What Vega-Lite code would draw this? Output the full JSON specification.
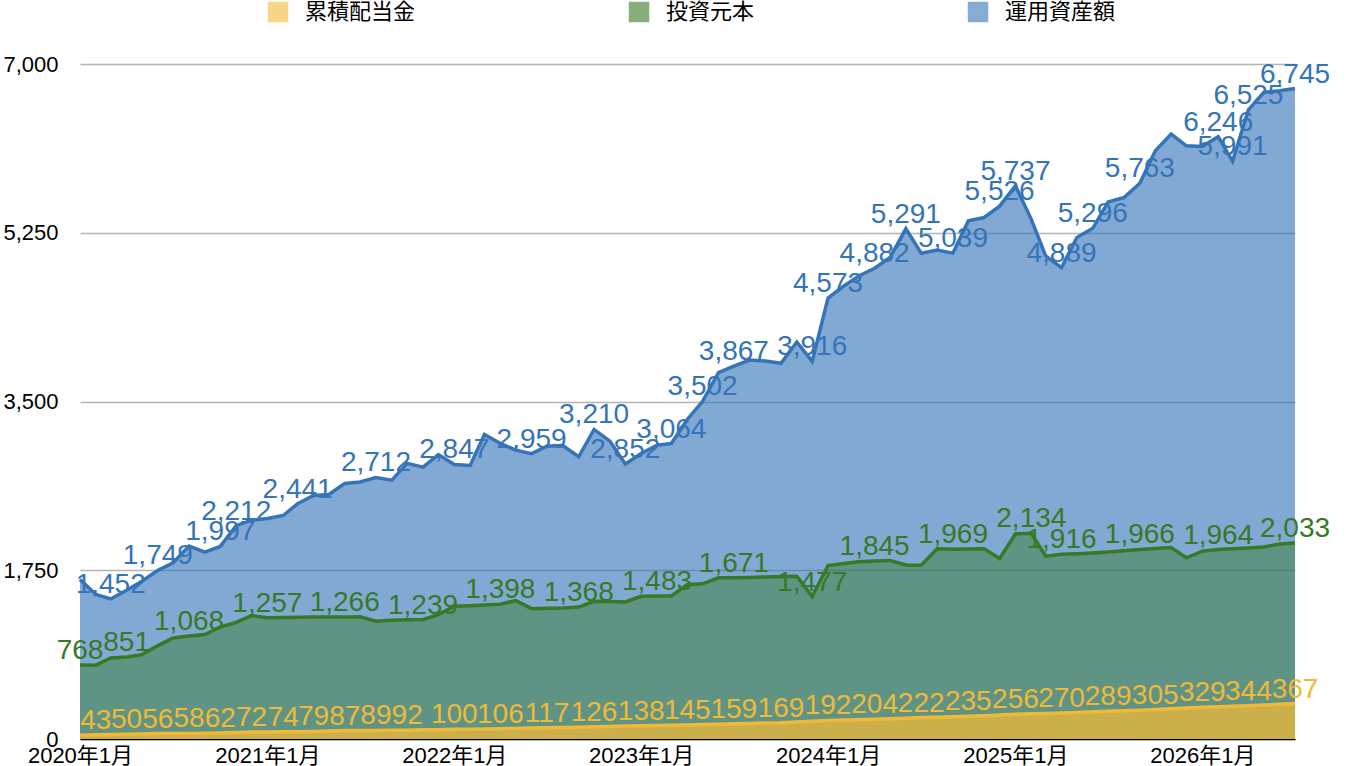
{
  "$schema": "https://vega.github.io/schema/vega-lite/v6.json",
  "width": 1215,
  "height": 675,
  "autosize": "none",
  "padding": {"left": 80, "top": 64, "right": 65, "bottom": 27},
  "background": "white",
  "config": {"view": {"stroke": null}, "font": "Liberation Sans"},
  "data": {
    "values": [
      {"date": "2020-01-01", "div": 40, "principal": 768, "assets": 1654},
      {"date": "2020-02-01", "div": 43, "principal": 766, "assets": 1498},
      {"date": "2020-03-01", "div": 46, "principal": 841, "assets": 1452},
      {"date": "2020-04-01", "div": 50, "principal": 851, "assets": 1543},
      {"date": "2020-05-01", "div": 53, "principal": 875, "assets": 1636},
      {"date": "2020-06-01", "div": 56, "principal": 968, "assets": 1749},
      {"date": "2020-07-01", "div": 57, "principal": 1048, "assets": 1827},
      {"date": "2020-08-01", "div": 58, "principal": 1068, "assets": 2000},
      {"date": "2020-09-01", "div": 60, "principal": 1083, "assets": 1937},
      {"date": "2020-10-01", "div": 62, "principal": 1162, "assets": 1997},
      {"date": "2020-11-01", "div": 67, "principal": 1210, "assets": 2212},
      {"date": "2020-12-01", "div": 72, "principal": 1280, "assets": 2269},
      {"date": "2021-01-01", "div": 73, "principal": 1257, "assets": 2287},
      {"date": "2021-02-01", "div": 74, "principal": 1259, "assets": 2318},
      {"date": "2021-03-01", "div": 76, "principal": 1262, "assets": 2441},
      {"date": "2021-04-01", "div": 79, "principal": 1264, "assets": 2525},
      {"date": "2021-05-01", "div": 83, "principal": 1265, "assets": 2536},
      {"date": "2021-06-01", "div": 87, "principal": 1266, "assets": 2650},
      {"date": "2021-07-01", "div": 88, "principal": 1267, "assets": 2665},
      {"date": "2021-08-01", "div": 89, "principal": 1221, "assets": 2712},
      {"date": "2021-09-01", "div": 90, "principal": 1231, "assets": 2684},
      {"date": "2021-10-01", "div": 92, "principal": 1236, "assets": 2858},
      {"date": "2021-11-01", "div": 95, "principal": 1239, "assets": 2819},
      {"date": "2021-12-01", "div": 97, "principal": 1290, "assets": 2950},
      {"date": "2022-01-01", "div": 100, "principal": 1377, "assets": 2847},
      {"date": "2022-02-01", "div": 102, "principal": 1383, "assets": 2837},
      {"date": "2022-03-01", "div": 104, "principal": 1390, "assets": 3159},
      {"date": "2022-04-01", "div": 106, "principal": 1398, "assets": 3065},
      {"date": "2022-05-01", "div": 110, "principal": 1436, "assets": 2996},
      {"date": "2022-06-01", "div": 113, "principal": 1352, "assets": 2959},
      {"date": "2022-07-01", "div": 117, "principal": 1355, "assets": 3037},
      {"date": "2022-08-01", "div": 120, "principal": 1358, "assets": 3044},
      {"date": "2022-09-01", "div": 123, "principal": 1368, "assets": 2927},
      {"date": "2022-10-01", "div": 126, "principal": 1428, "assets": 3210},
      {"date": "2022-11-01", "div": 130, "principal": 1425, "assets": 3089},
      {"date": "2022-12-01", "div": 134, "principal": 1422, "assets": 2852},
      {"date": "2023-01-01", "div": 138, "principal": 1480, "assets": 2961},
      {"date": "2023-02-01", "div": 140, "principal": 1483, "assets": 3048},
      {"date": "2023-03-01", "div": 142, "principal": 1483, "assets": 3064},
      {"date": "2023-04-01", "div": 145, "principal": 1601, "assets": 3314},
      {"date": "2023-05-01", "div": 150, "principal": 1609, "assets": 3502},
      {"date": "2023-06-01", "div": 154, "principal": 1671, "assets": 3799},
      {"date": "2023-07-01", "div": 159, "principal": 1671, "assets": 3867},
      {"date": "2023-08-01", "div": 162, "principal": 1676, "assets": 3930},
      {"date": "2023-09-01", "div": 165, "principal": 1680, "assets": 3920},
      {"date": "2023-10-01", "div": 169, "principal": 1684, "assets": 3896},
      {"date": "2023-11-01", "div": 177, "principal": 1688, "assets": 4117},
      {"date": "2023-12-01", "div": 185, "principal": 1477, "assets": 3916},
      {"date": "2024-01-01", "div": 192, "principal": 1799, "assets": 4573},
      {"date": "2024-02-01", "div": 196, "principal": 1820, "assets": 4698},
      {"date": "2024-03-01", "div": 200, "principal": 1837, "assets": 4802},
      {"date": "2024-04-01", "div": 204, "principal": 1845, "assets": 4882},
      {"date": "2024-05-01", "div": 210, "principal": 1852, "assets": 4993},
      {"date": "2024-06-01", "div": 216, "principal": 1805, "assets": 5291},
      {"date": "2024-07-01", "div": 222, "principal": 1802, "assets": 5037},
      {"date": "2024-08-01", "div": 226, "principal": 1972, "assets": 5072},
      {"date": "2024-09-01", "div": 230, "principal": 1969, "assets": 5039},
      {"date": "2024-10-01", "div": 235, "principal": 1970, "assets": 5373},
      {"date": "2024-11-01", "div": 242, "principal": 1972, "assets": 5408},
      {"date": "2024-12-01", "div": 249, "principal": 1871, "assets": 5526},
      {"date": "2025-01-01", "div": 256, "principal": 2128, "assets": 5737},
      {"date": "2025-02-01", "div": 261, "principal": 2134, "assets": 5389},
      {"date": "2025-03-01", "div": 265, "principal": 1896, "assets": 5010},
      {"date": "2025-04-01", "div": 270, "principal": 1916, "assets": 4889},
      {"date": "2025-05-01", "div": 276, "principal": 1922, "assets": 5200},
      {"date": "2025-06-01", "div": 282, "principal": 1930, "assets": 5296},
      {"date": "2025-07-01", "div": 289, "principal": 1940, "assets": 5570},
      {"date": "2025-08-01", "div": 294, "principal": 1952, "assets": 5615},
      {"date": "2025-09-01", "div": 299, "principal": 1966, "assets": 5763},
      {"date": "2025-10-01", "div": 305, "principal": 1975, "assets": 6099},
      {"date": "2025-11-01", "div": 313, "principal": 1985, "assets": 6273},
      {"date": "2025-12-01", "div": 321, "principal": 1879, "assets": 6151},
      {"date": "2026-01-01", "div": 329, "principal": 1948, "assets": 6145},
      {"date": "2026-02-01", "div": 334, "principal": 1964, "assets": 6246},
      {"date": "2026-03-01", "div": 339, "principal": 1972, "assets": 5991},
      {"date": "2026-04-01", "div": 344, "principal": 1981, "assets": 6525},
      {"date": "2026-05-01", "div": 352, "principal": 1992, "assets": 6705},
      {"date": "2026-06-01", "div": 360, "principal": 2022, "assets": 6722},
      {"date": "2026-07-01", "div": 367, "principal": 2033, "assets": 6745}
    ]
  },
  "transform": [
    {"fold": ["assets", "principal", "div"], "as": ["key", "value"]}
  ],
  "encoding": {
    "x": {
      "field": "date",
      "type": "temporal",
      "scale": {"type": "utc", "nice": false},
      "axis": {
        "title": null,
        "values": [
          {"year": 2020, "month": 1, "date": 1, "utc": true},
          {"year": 2021, "month": 1, "date": 1, "utc": true},
          {"year": 2022, "month": 1, "date": 1, "utc": true},
          {"year": 2023, "month": 1, "date": 1, "utc": true},
          {"year": 2024, "month": 1, "date": 1, "utc": true},
          {"year": 2025, "month": 1, "date": 1, "utc": true},
          {"year": 2026, "month": 1, "date": 1, "utc": true}
        ],
        "format": "%Y年%-m月",
        "labelFont": "Liberation Sans, Noto Sans CJK JP",
        "labelFontSize": 22,
        "labelColor": "black",
        "labelPadding": 6,
        "labelFlush": false,
        "labelOverlap": false,
        "ticks": false,
        "grid": false,
        "domainColor": "black",
        "domainWidth": 1.5
      }
    },
    "y": {
      "field": "value",
      "type": "quantitative",
      "stack": null,
      "scale": {"domain": [0, 7000], "nice": false},
      "axis": {
        "title": null,
        "values": [0, 1750, 3500, 5250, 7000],
        "format": ",d",
        "labelFont": "Liberation Sans",
        "labelFontSize": 22,
        "labelColor": "black",
        "labelPadding": 22,
        "ticks": false,
        "domain": false,
        "gridColor": "#b4b4b4",
        "gridWidth": 1.5
      }
    },
    "color": {
      "field": "key",
      "type": "nominal",
      "scale": {
        "domain": ["div", "principal", "assets"],
        "range": ["#f0b937", "#357a24", "#3574b8"]
      },
      "legend": {
        "orient": "none",
        "legendX": 187,
        "legendY": -63,
        "direction": "horizontal",
        "title": null,
        "symbolType": "square",
        "symbolSize": 420,
        "symbolStrokeWidth": 0,
        "symbolOpacity": 0.6,
        "labelFont": "Noto Sans CJK JP",
        "labelFontSize": 22,
        "labelColor": "black",
        "labelOffset": 16,
        "columnPadding": 212,
        "labelExpr": "{'div': '累積配当金', 'principal': '投資元本', 'assets': '運用資産額'}[datum.value]"
      }
    }
  },
  "layer": [
    {
      "mark": {"type": "area"},
      "encoding": {
        "opacity": {
          "condition": [
            {"test": "datum.key == 'div'", "value": 0.74},
            {"test": "datum.key == 'principal'", "value": 0.45}
          ],
          "value": 0.62
        }
      }
    },
    {
      "mark": {"type": "line", "strokeWidth": 3.5}
    },
    {
      "transform": [
        {
          "filter": "indexof(datum.key == 'div' ? ['2020-02','2020-04','2020-06','2020-08','2020-10','2020-12','2021-02','2021-04','2021-06','2021-08','2021-10','2022-01','2022-04','2022-07','2022-10','2023-01','2023-04','2023-07','2023-10','2024-01','2024-04','2024-07','2024-10','2025-01','2025-04','2025-07','2025-10','2026-01','2026-04','2026-07'] : datum.key == 'principal' ? ['2020-01','2020-04','2020-08','2021-01','2021-06','2021-11','2022-04','2022-09','2023-02','2023-07','2023-12','2024-04','2024-09','2025-02','2025-04','2025-09','2026-02','2026-07'] : ['2020-03','2020-06','2020-10','2020-11','2021-03','2021-08','2022-01','2022-06','2022-10','2022-12','2023-03','2023-05','2023-07','2023-12','2024-01','2024-04','2024-06','2024-09','2024-12','2025-01','2025-04','2025-06','2025-09','2026-02','2026-03','2026-04','2026-07'], utcFormat(datum.date, '%Y-%m')) >= 0"
        }
      ],
      "mark": {
        "type": "text",
        "font": "Liberation Sans",
        "fontSize": 28,
        "baseline": "alphabetic",
        "align": "center",
        "dy": -6
      },
      "encoding": {
        "text": {"field": "value", "type": "quantitative", "format": ","}
      }
    }
  ]
}
